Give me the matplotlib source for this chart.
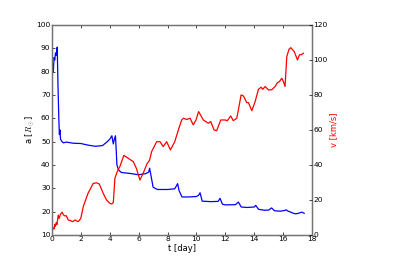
import matplotlib
matplotlib.use('Agg')
import matplotlib.pyplot as plt

# semi-major axis a [R_sun] vs time
t_a = [0.0, 0.05, 0.1, 0.15, 0.2, 0.25, 0.3, 0.37, 0.42, 0.48, 0.52, 0.56, 0.6, 0.7, 0.8, 1.0,
       1.5, 2.0, 2.5, 3.0, 3.5, 3.8, 4.0, 4.15, 4.25, 4.32, 4.4, 4.5, 4.6, 4.8, 5.5, 6.0,
       6.5, 6.7, 6.76, 6.9, 7.0, 7.3, 8.0, 8.5, 8.7, 8.8, 9.0, 9.5, 10.0, 10.15, 10.25,
       10.4, 11.0, 11.5, 11.63, 11.8, 12.0, 12.7, 12.9, 13.1, 13.5, 14.0, 14.1, 14.3,
       14.7, 15.0, 15.2, 15.4, 15.8, 16.1, 16.2, 16.35, 16.6, 16.8, 17.0, 17.2, 17.3, 17.45]
a = [78, 83, 80, 86, 85, 88, 87, 90.5, 75, 60, 53, 55, 51, 50, 49.5, 49.8,
     49.3, 49.2, 48.5, 48.0, 48.3, 49.8, 51, 52.5, 49, 51, 52.5, 40, 38, 36.8, 36.3, 35.8,
     36.3, 37, 38.6, 34, 30.5, 29.5, 29.5, 29.8, 32, 29, 26.3, 26.3, 26.5, 27, 28.1,
     24.5, 24.3, 24.4, 25.7, 23.2, 22.9, 23, 24.1, 22, 21.8, 22, 22.7, 21,
     20.6, 20.7, 21.6, 20.4, 20.2, 20.5, 20.8, 20.2, 19.6, 19.1, 19.2, 19.6, 19.8, 19.3]

# velocity v [km/s] vs time
t_v = [0.0, 0.05, 0.1, 0.15, 0.2, 0.25, 0.3, 0.35, 0.44, 0.5, 0.6, 0.71, 0.8, 0.9, 1.0,
       1.13, 1.3, 1.43, 1.6, 1.82, 2.0, 2.17, 2.5, 2.86, 3.1, 3.28, 3.55, 3.78, 4.0,
       4.13, 4.25, 4.36, 4.52, 4.7, 4.98, 5.28, 5.63, 5.85, 6.09, 6.3, 6.6, 6.75, 6.9,
       7.25, 7.48, 7.7, 7.94, 8.2, 8.5, 8.75, 8.98, 9.1, 9.32, 9.56, 9.78, 9.97, 10.15,
       10.48, 10.82, 10.99, 11.22, 11.4, 11.68, 11.98, 12.14, 12.37, 12.55, 12.79, 12.9,
       13.09, 13.25, 13.48, 13.6, 13.83, 14.06, 14.29, 14.47, 14.59, 14.75, 14.98, 15.2,
       15.44, 15.6, 15.74, 15.9, 16.02, 16.13, 16.25, 16.4, 16.53, 16.76, 16.99, 17.13, 17.25, 17.4]
v = [1, 3, 4, 3.5, 6, 5, 7, 6, 11.4, 9.5, 12, 13, 11.5, 10.9, 11,
     8.6, 8.2, 7.6, 8.6, 7.6, 9.5, 16.2, 23.8, 29.5, 29.8, 29.1, 23.8, 20, 18.2,
     17.7, 18.5, 32.4, 36.2, 39, 45.5, 43.8, 41.9, 38, 31.4, 35, 41, 42.5, 47.6,
     53.3, 53.3, 50.5, 53.3, 48.6, 53.3, 60, 65.7, 66.7, 66, 66.7, 62.9, 65.7, 70.5,
     65.7, 63.8, 64.8, 60, 59.6, 65.7, 65.7, 65.3, 68, 65.3, 66.7, 71.4,
     80, 79.4, 75.6, 75.6, 71, 76.2, 83.2, 84.4, 83.2, 84.8, 82.9, 82.9,
     84.8, 87, 87.6, 89.5, 87.6, 84.8, 101.9, 106, 107, 104.8, 100, 102.9, 103, 103.8]

plt.style.use('classic')
plt.rcParams.update({
    'font.size': 6,
    'axes.linewidth': 0.9,
    'axes.edgecolor': '0.45',
    'xtick.major.size': 2.5,
    'ytick.major.size': 2.5,
    'savefig.facecolor': 'white',
    'figure.facecolor': 'white',
})

fig = plt.figure(figsize=(4.15, 2.62), dpi=100)
ax1 = fig.add_subplot(111)
fig.subplots_adjust(left=0.125, right=0.752, bottom=0.103, top=0.905)

ax1.plot(t_a, a, 'b-', lw=0.9)
ax1.set_xlim(0, 18)
ax1.set_ylim(10, 100)
ax1.set_xlabel('t [day]', fontsize=6, labelpad=1)
ax1.set_ylabel(r'a [$R_\odot$]', fontsize=6, labelpad=0)

ax2 = ax1.twinx()
ax2.plot(t_v, v, 'r-', lw=0.9)
ax2.set_ylim(0, 120)
ax2.set_ylabel('v [km/s]', color='r', fontsize=6, labelpad=1)

for ax in (ax1, ax2):
    ax.tick_params(labelsize=5.4, pad=1)

fig.savefig('out.png', dpi=100)
